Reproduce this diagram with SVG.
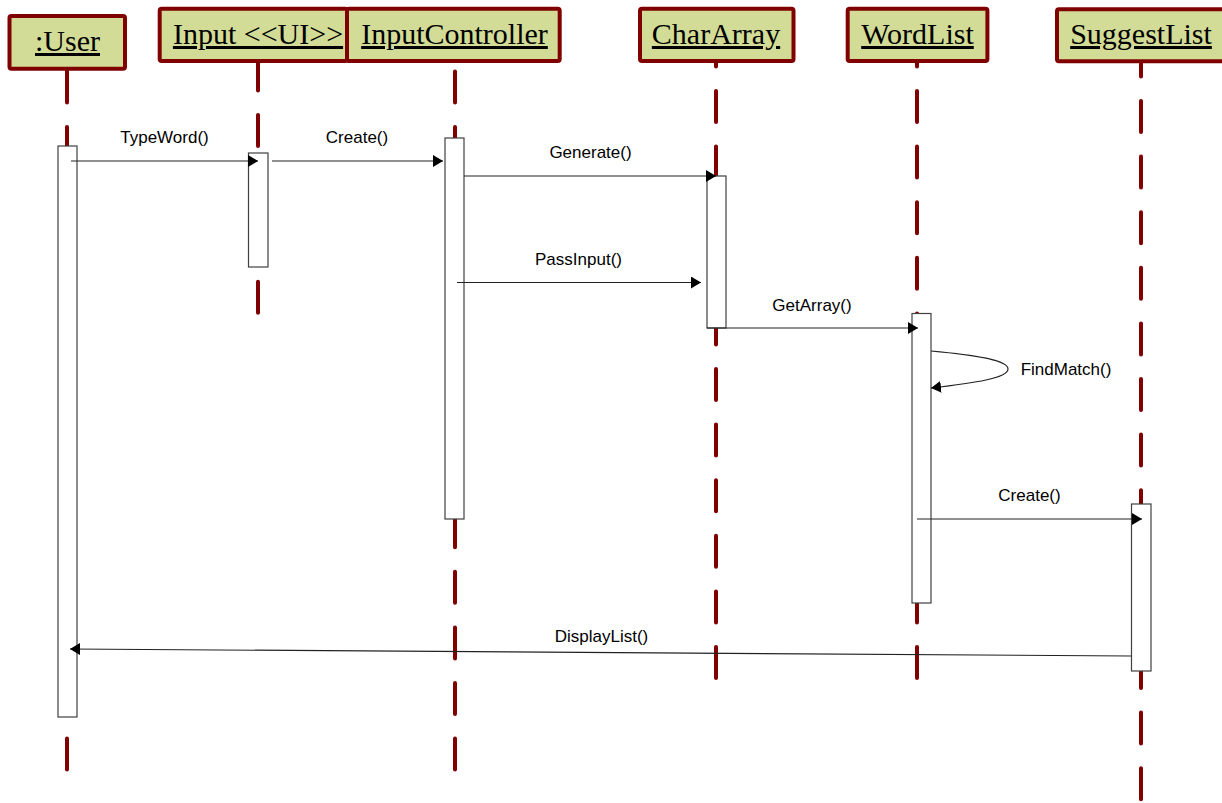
<svg xmlns="http://www.w3.org/2000/svg" width="1222" height="803" viewBox="0 0 1222 803">
<style>
.hdr{fill:#d2dc96;stroke:#800000;stroke-width:4;stroke-linejoin:round}
.ht{font-family:"Liberation Serif","Times New Roman",serif;font-size:30px;fill:#000;text-anchor:middle;text-decoration:underline}
.life{stroke:#800000;stroke-width:4;stroke-linecap:round;stroke-dasharray:31 24.6;fill:none}
.act{fill:#fff;stroke:#404040;stroke-width:1.2}
.msg{stroke:#222;stroke-width:1.2;fill:none;marker-end:url(#arr)}
.ml{font-family:"Liberation Sans",Arial,sans-serif;font-size:17px;fill:#000;text-anchor:middle}
</style>
<defs>
<marker id="arr" markerUnits="userSpaceOnUse" markerWidth="11" markerHeight="12" refX="10" refY="6" orient="auto">
<path d="M0,0 L10,6 L0,12 z" fill="#000"/>
</marker>
</defs>
<rect width="1222" height="803" fill="#fff"/>
<g id="user">
<line class="life" x1="67" y1="71.4" x2="67" y2="770"/>
<rect class="hdr" x="9.5" y="16" width="115.5" height="52.7" rx="2"/>
<text class="ht" x="67.5" y="51">:User</text>
<rect class="act" x="58" y="146" width="19" height="571"/>
</g>
<g id="input-ui">
<line class="life" x1="258" y1="59.4" x2="258" y2="313"/>
<rect class="hdr" x="159.7" y="8.7" width="187.3" height="52.3" rx="2"/>
<text class="ht" x="258" y="44">Input &lt;&lt;UI&gt;&gt;</text>
<rect class="act" x="248.5" y="153" width="19.5" height="114"/>
</g>
<g id="input-controller">
<line class="life" x1="455" y1="71.4" x2="455" y2="770"/>
<rect class="hdr" x="347" y="8.7" width="212.7" height="52.3" rx="2"/>
<text class="ht" x="454.5" y="44">InputController</text>
<rect class="act" x="445" y="138" width="19" height="381"/>
</g>
<g id="char-array">
<line class="life" x1="716" y1="35.4" x2="716" y2="678"/>
<rect class="hdr" x="640" y="8.7" width="153.5" height="52.3" rx="2"/>
<text class="ht" x="716" y="44">CharArray</text>
<rect class="act" x="707" y="176" width="19" height="152"/>
</g>
<g id="word-list">
<line class="life" x1="917" y1="35.4" x2="917" y2="678"/>
<rect class="hdr" x="847.7" y="8.7" width="139.7" height="52.3" rx="2"/>
<text class="ht" x="917.5" y="44">WordList</text>
<rect class="act" x="912" y="313.5" width="19" height="289.5"/>
</g>
<g id="suggest-list">
<line class="life" x1="1141" y1="45.4" x2="1141" y2="805"/>
<rect class="hdr" x="1057" y="9.3" width="175" height="52" rx="2"/>
<text class="ht" x="1141" y="44">SuggestList</text>
<rect class="act" x="1131.5" y="504" width="19.5" height="167"/>
</g>
<g id="connectors">
<path class="msg" d="M71,161 H258"/>
<path class="msg" d="M272,161 H443"/>
<path class="msg" d="M464,176 H716"/>
<path class="msg" d="M457,282.5 H701"/>
<path class="msg" d="M707,328 H918"/>
<path class="msg" d="M931,351 C975,355 1008,360 1008,369 C1008,378 975,383 931,388"/>
<path class="msg" d="M917,519 H1142"/>
<path class="msg" d="M1131,656 L70,649"/>
<text class="ml" x="164.5" y="143">TypeWord()</text>
<text class="ml" x="357" y="143">Create()</text>
<text class="ml" x="590.5" y="158">Generate()</text>
<text class="ml" x="578.5" y="265">PassInput()</text>
<text class="ml" x="812" y="311">GetArray()</text>
<text class="ml" x="1066" y="375">FindMatch()</text>
<text class="ml" x="1029.5" y="501">Create()</text>
<text class="ml" x="601.5" y="642">DisplayList()</text>
</g>
</svg>
